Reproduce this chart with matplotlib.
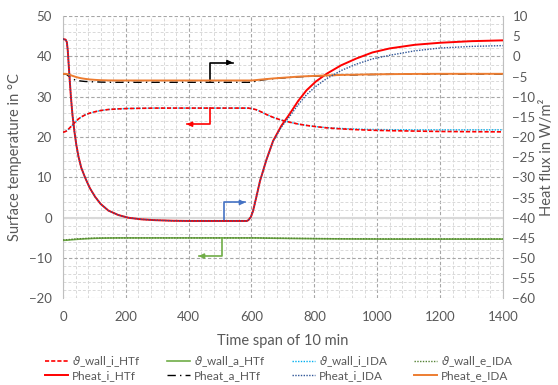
import numpy as np
import matplotlib
matplotlib.use("Agg")
import matplotlib.pyplot as plt
from matplotlib.ticker import MultipleLocator

plt.rcParams['font.family'] = ['Lato', 'DejaVu Sans']

# time in s
t = [0, 8, 12, 15, 20, 25, 30, 36, 42, 49, 58, 70, 85, 102, 120, 144, 175, 208, 250, 293, 350,
     400, 500, 585, 590, 598, 605, 615, 627, 648, 669, 695, 722, 748, 775, 805, 839, 885, 934,
     985, 1040, 1120, 1200, 1300, 1400]

# surface temperatures (left axis, degC)
wall_i_htf = [21.2, 21.4, 21.6, 21.8, 22.2, 22.6, 23.0, 23.5, 24.0, 24.5, 25.0, 25.5, 25.95, 26.3, 26.6,
              26.85, 27.0, 27.1, 27.15, 27.2, 27.2, 27.2, 27.2, 27.2, 27.2, 27.1, 27.0, 26.8, 26.4, 25.6,
              24.9, 24.2, 23.7, 23.25, 22.9, 22.6, 22.3, 22.05, 21.85, 21.7, 21.6, 21.5, 21.4, 21.35, 21.3]
wall_i_ida = [21.2, 21.4, 21.6, 21.8, 22.2, 22.6, 23.0, 23.5, 24.0, 24.5, 25.0, 25.5, 25.95, 26.3, 26.6,
              26.85, 27.0, 27.1, 27.15, 27.2, 27.2, 27.2, 27.2, 27.2, 27.2, 27.1, 27.0, 26.8, 26.4, 25.6,
              24.9, 24.2, 23.7, 23.25, 22.9, 22.6, 22.35, 22.15, 22.0, 21.9, 21.85, 21.8, 21.8, 21.8, 21.8]
wall_a_htf = [-5.6, -5.58, -5.56, -5.55, -5.5, -5.47, -5.44, -5.4, -5.36, -5.32, -5.28, -5.22, -5.16, -5.1, -5.06,
              -5.03, -5.0, -5.0, -5.0, -5.0, -5.0, -5.0, -5.0, -5.0, -5.0, -5.0, -5.0, -5.0, -5.02, -5.05,
              -5.08, -5.1, -5.13, -5.15, -5.17, -5.2, -5.22, -5.25, -5.27, -5.28, -5.3, -5.3, -5.3, -5.3, -5.3]
wall_e_ida = [-5.5, -5.48, -5.46, -5.45, -5.4, -5.37, -5.34, -5.3, -5.26, -5.22, -5.18, -5.14, -5.1, -5.06, -5.03,
              -5.01, -5.0, -5.0, -5.0, -5.0, -5.0, -5.0, -5.0, -5.0, -5.0, -5.0, -5.0, -5.0, -5.02, -5.04,
              -5.06, -5.08, -5.1, -5.12, -5.14, -5.16, -5.18, -5.2, -5.22, -5.23, -5.24, -5.25, -5.25, -5.25, -5.25]

# heat fluxes (right axis, W/m2)
pheat_i_htf = [4.3, 4.2, 3.6, 1.5, -4.5, -10.0, -14.5, -18.5, -21.8, -24.8, -27.6, -30.0, -32.6, -34.8, -36.6,
               -38.2, -39.3, -40.0, -40.4, -40.6, -40.75, -40.8, -40.8, -40.8, -40.6, -39.8, -38.3, -35.0, -30.9, -25.5,
               -20.9, -17.2, -14.2, -11.1, -8.4, -6.2, -4.3, -2.2, -0.5, 1.0, 2.0, 2.9, 3.4, 3.8, 4.0]
pheat_i_ida = [4.3, 4.2, 3.6, 1.5, -4.5, -10.0, -14.5, -18.5, -21.8, -24.8, -27.6, -30.0, -32.6, -34.8, -36.6,
               -38.2, -39.3, -40.0, -40.4, -40.6, -40.75, -40.8, -40.8, -40.8, -40.6, -39.8, -38.3, -35.0, -30.9, -25.5,
               -21.0, -17.5, -14.8, -12.0, -9.5, -7.4, -5.5, -3.5, -1.9, -0.6, 0.3, 1.4, 2.1, 2.5, 2.7]
pheat_a_htf = [-4.3, -4.35, -4.5, -4.7, -5.0, -5.3, -5.55, -5.75, -5.9, -6.0, -6.1, -6.2, -6.25, -6.3, -6.35,
               -6.4, -6.4, -6.4, -6.4, -6.4, -6.4, -6.4, -6.4, -6.4, -6.4, -6.4, -6.3, -6.1, -5.9, -5.7,
               -5.5, -5.35, -5.2, -5.05, -4.95, -4.85, -4.75, -4.63, -4.55, -4.48, -4.43, -4.38, -4.35, -4.35, -4.35]
pheat_e_ida = [-4.3, -4.3, -4.35, -4.4, -4.5, -4.65, -4.8, -4.95, -5.1, -5.25, -5.4, -5.55, -5.7, -5.8, -5.88,
               -5.93, -5.95, -5.95, -5.95, -5.95, -5.95, -5.95, -5.95, -5.95, -5.95, -5.95, -5.92, -5.85, -5.75, -5.6,
               -5.45, -5.3, -5.15, -5.0, -4.9, -4.8, -4.7, -4.58, -4.5, -4.43, -4.38, -4.33, -4.3, -4.3, -4.3]

grey = '#595959'

fig = plt.figure(figsize=(5.58, 3.85), dpi=100)
ax = fig.add_axes([0.113, 0.225, 0.788, 0.733])
ax2 = ax.twinx()

ax.set_xlim(0, 1400)
ax.set_ylim(-20, 50)
ax2.set_ylim(-60, 10)

ax.xaxis.set_major_locator(MultipleLocator(200))
ax.xaxis.set_minor_locator(MultipleLocator(40))
ax.yaxis.set_major_locator(MultipleLocator(10))
ax.yaxis.set_minor_locator(MultipleLocator(2))
ax2.yaxis.set_major_locator(MultipleLocator(5))

ax.grid(which='minor', color='#d9d9d9', ls=(0, (3, 2)), lw=0.7)
ax.grid(which='major', color='#a6a6a6', ls=(0, (3, 2)), lw=0.8)
ax.set_axisbelow(True)
ax.axhline(0, color='#d9d9d9', lw=1.5, zorder=1)

for a in (ax, ax2):
    for s in a.spines.values():
        s.set_visible(False)
    a.tick_params(which='both', length=0, colors=grey, labelsize=9.5)
ax.spines['left'].set_visible(True)
ax.spines['left'].set_color('#bfbfbf')
ax2.spines['right'].set_visible(True)
ax2.spines['right'].set_color('#bfbfbf')
ax.tick_params(axis='y', pad=8)
ax.tick_params(axis='x', pad=9)
ax2.tick_params(axis='y', pad=7)

l1, = ax.plot(t, wall_i_htf, color='#ff0000', ls=(0, (2.5, 1.2)), lw=1.2, zorder=4)
l5, = ax.plot(t, wall_i_ida, color='#00b0f0', ls=(0, (1, 1)), lw=1.0, zorder=3)
l2, = ax.plot(t, wall_a_htf, color='#70ad47', lw=1.2, zorder=3)
l6, = ax.plot(t, wall_e_ida, color='#548235', ls=(0, (1, 1)), lw=1.0, zorder=4)

l3, = ax2.plot(t, pheat_i_htf, color='#ff0000', lw=1.4, zorder=4)
l7, = ax2.plot(t, pheat_i_ida, color='#2f5597', ls=(0, (1, 1)), lw=1.0, zorder=5)
l4, = ax2.plot(t, pheat_a_htf, color='black', ls=(0, (6, 3, 1, 3)), lw=1.0, zorder=3)
l8, = ax2.plot(t, pheat_e_ida, color='#ed7d31', lw=1.4, zorder=4)

# arrows pointing to the axis of each group
def bracket(a, x0, y0, y1, x1, color):
    a.plot([x0, x0, x1], [y0, y1, y1], color=color, lw=1.2, zorder=6)
    a.annotate('', xy=(x1, y1), xytext=(x1 - 0.2 * (x1 - x0), y1),
               arrowprops=dict(arrowstyle='-|>', color=color, lw=1.2,
                               mutation_scale=7, shrinkA=0, shrinkB=0), zorder=6)

bracket(ax, 469, 33.8, 38.5, 540, 'black')
bracket(ax, 469, 27.2, 23.2, 394, '#ff0000')
bracket(ax, 507, -5.1, -9.5, 432, '#70ad47')
bracket(ax, 512, -0.8, 3.8, 580, '#4472c4')

ax.set_ylabel('Surface temperature in °C', color=grey, fontsize=10.5, labelpad=5)
ax2.set_ylabel('Heat flux in W/m²', color=grey, fontsize=10.5, labelpad=3)
ax.set_xlabel('Time span of 10 min', color=grey, fontsize=10.5, labelpad=8)

handles = [l1, l3, l2, l4, l5, l7, l6, l8]
labels = ['$\\vartheta$_wall_i_HTf', 'Pheat_i_HTf', '$\\vartheta$_wall_a_HTf', 'Pheat_a_HTf',
          '$\\vartheta$_wall_i_IDA', 'Pheat_i_IDA', '$\\vartheta$_wall_e_IDA', 'Pheat_e_IDA']
leg = fig.legend(handles, labels, loc='lower center', bbox_to_anchor=(0.5, -0.005), ncol=4,
                 frameon=False, fontsize=8.5, handlelength=2.0, handletextpad=0.3,
                 columnspacing=2.2, labelspacing=0.05, borderaxespad=0.1)
for txt in leg.get_texts():
    txt.set_color(grey)

fig.savefig('out.png', dpi=100)
